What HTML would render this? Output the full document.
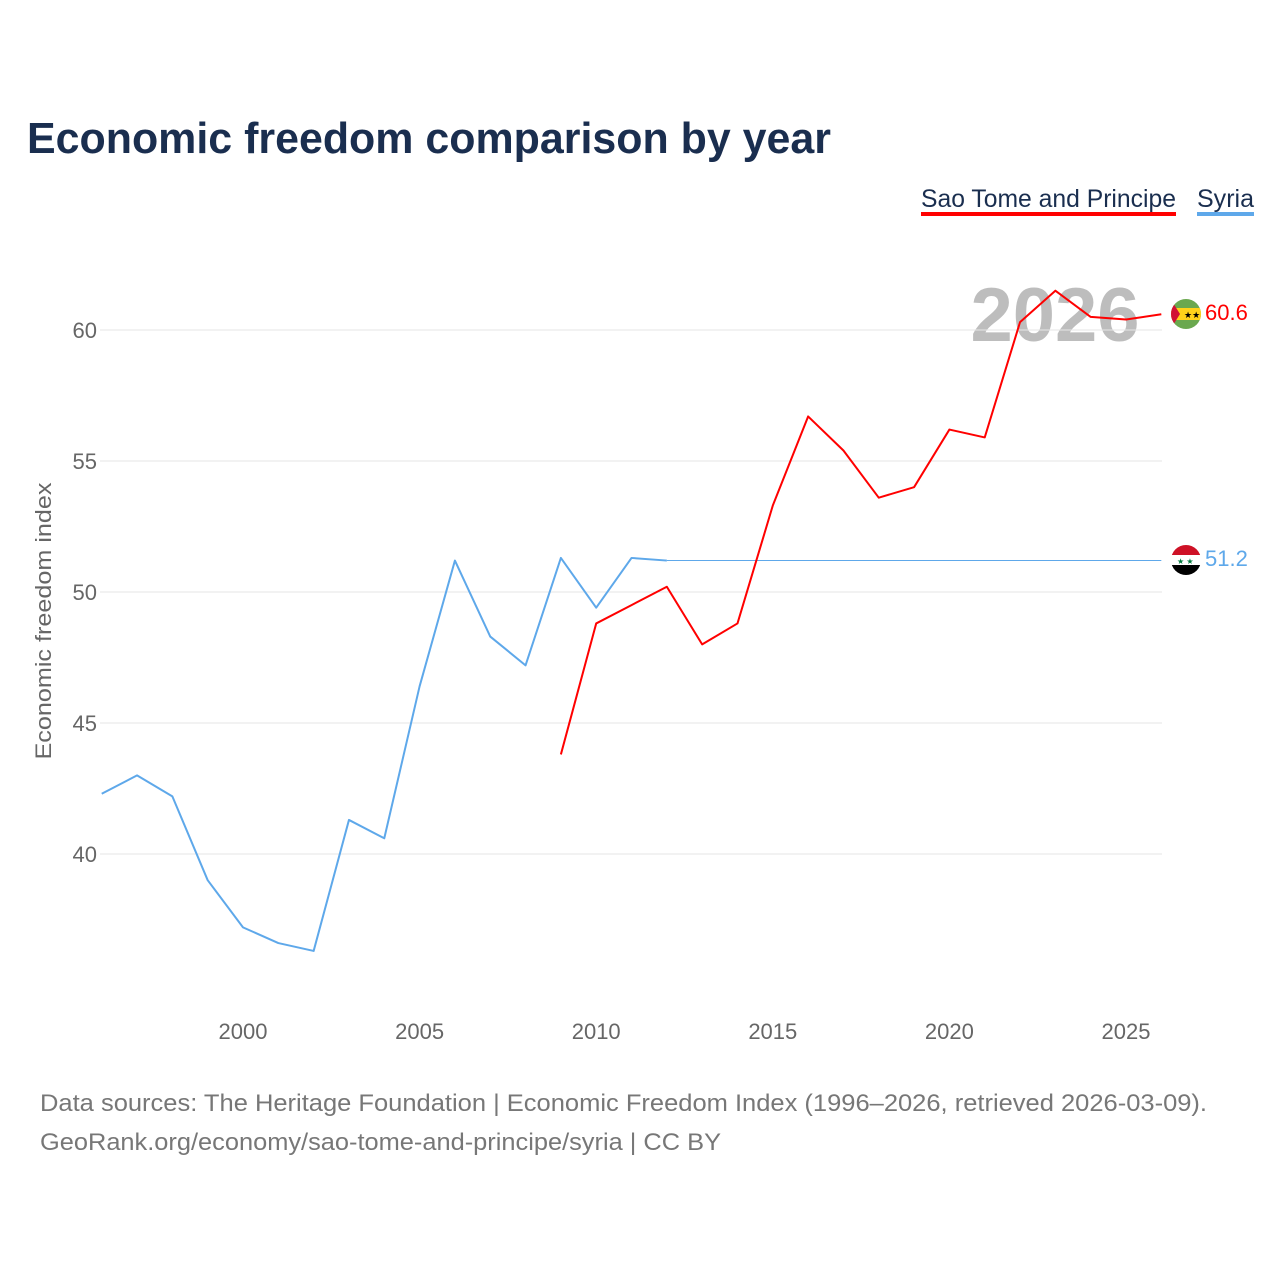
<!DOCTYPE html>
<html><head><meta charset="utf-8">
<style>
body{margin:0;background:#fff;font-family:"Liberation Sans",sans-serif;}
#wrap{position:relative;width:1280px;height:1280px;overflow:hidden;}
</style></head>
<body>
<div id="wrap">
<svg id="svg" width="1280" height="1280" xmlns="http://www.w3.org/2000/svg">
<text x="27" y="153" font-size="44" font-weight="bold" fill="#1a2e4f" textLength="804" lengthAdjust="spacingAndGlyphs">Economic freedom comparison by year</text>
<g>
<text x="921" y="207" font-size="25" fill="#1a2e4f" textLength="255" lengthAdjust="spacingAndGlyphs">Sao Tome and Principe</text>
<rect x="921" y="212" width="255" height="4" fill="#ff0000"/>
</g>
<g>
<text x="1197" y="207" font-size="25" fill="#1a2e4f" textLength="57" lengthAdjust="spacingAndGlyphs">Syria</text>
<rect x="1197" y="212" width="57" height="4" fill="#5ea8ea"/>
</g>
<text x="1055" y="341" font-size="76" font-weight="bold" fill="#bdbdbd" text-anchor="middle">2026</text>
<g id="grid"></g>
<g id="axes"></g>
<g id="series"></g>
<text transform="translate(51,621) rotate(-90)" font-size="22" fill="#666" text-anchor="middle" textLength="277" lengthAdjust="spacingAndGlyphs">Economic freedom index</text>
<g>
<clipPath id="c1"><circle cx="1186" cy="314" r="15"/></clipPath>
<g clip-path="url(#c1)">
<rect x="1170" y="298" width="32" height="32" fill="#6aa84f"/>
<rect x="1170" y="308" width="32" height="12" fill="#ffd21a"/>
<polygon points="1170,298 1180,314 1170,330" fill="#d21034"/>
<text x="1184" y="318" font-size="9" fill="#000">★★</text>
</g></g>
<g>
<clipPath id="c2"><circle cx="1186" cy="560" r="15"/></clipPath>
<g clip-path="url(#c2)">
<rect x="1170" y="544" width="32" height="11" fill="#ce1126"/>
<rect x="1170" y="555" width="32" height="10" fill="#fff"/>
<rect x="1170" y="565" width="32" height="11" fill="#000"/>
<text x="1177" y="564" font-size="8" fill="#007a3d">★ ★</text>
</g></g>
<text x="1205" y="320" font-size="22" fill="#ff0000">60.6</text>
<text x="1205" y="566" font-size="22" fill="#5ea8ea">51.2</text>
<text x="40" y="1111" font-size="24" fill="#777" textLength="1167" lengthAdjust="spacingAndGlyphs">Data sources: The Heritage Foundation | Economic Freedom Index (1996–2026, retrieved 2026-03-09).</text>
<text x="40" y="1150" font-size="24" fill="#777" textLength="681" lengthAdjust="spacingAndGlyphs">GeoRank.org/economy/sao-tome-and-principe/syria | CC BY</text>
</svg>
</div>
<script>
const yTicks=[40,45,50,55,60];
const xTicks=[2000,2005,2010,2015,2020,2025];
const syriaYears=[1996,1997,1998,1999,2000,2001,2002,2003,2004,2005,2006,2007,2008,2009,2010,2011,2012];
const syriaValues=[42.3,43.0,42.2,39.0,37.2,36.6,36.3,41.3,40.6,46.4,51.2,48.3,47.2,51.3,49.4,51.3,51.2];
const syriaHoldYears=[2012,2026];
const syriaHoldValues=[51.2,51.2];
const stpYears=[2009,2010,2011,2012,2013,2014,2015,2016,2017,2018,2019,2020,2021,2022,2023,2024,2025,2026];
const stpValues=[43.8,48.8,49.5,50.2,48.0,48.8,53.3,56.7,55.4,53.6,54.0,56.2,55.9,60.3,61.5,60.5,60.4,60.6];
const NS="http://www.w3.org/2000/svg";
const xs=y=>243+(y-2000)*35.32;
const ys=v=>854-(v-40)*26.2;
const grid=document.getElementById('grid'),axes=document.getElementById('axes'),ser=document.getElementById('series');
yTicks.forEach(t=>{
 const l=document.createElementNS(NS,'line');
 l.setAttribute('x1',100);l.setAttribute('x2',1162);l.setAttribute('y1',ys(t));l.setAttribute('y2',ys(t));
 l.setAttribute('stroke','#e6e6e6');l.setAttribute('stroke-width',1);
 
 
 grid.appendChild(l);
 const tx=document.createElementNS(NS,'text');
 tx.setAttribute('x',97);tx.setAttribute('y',ys(t)+8);tx.setAttribute('text-anchor','end');
 tx.setAttribute('font-size',22);tx.setAttribute('fill','#666');tx.textContent=t;
 
 
 axes.appendChild(tx);
});
xTicks.forEach(t=>{
 const tx=document.createElementNS(NS,'text');
 tx.setAttribute('x',xs(t));tx.setAttribute('y',1039);tx.setAttribute('text-anchor','middle');
 tx.setAttribute('font-size',22);tx.setAttribute('fill','#666');tx.textContent=t;
 
 
 axes.appendChild(tx);
});
function line(yrs,vals,color,w,name){
 const p=document.createElementNS(NS,'polyline');
 p.setAttribute('points',yrs.map((y,i)=>xs(y)+','+ys(vals[i])).join(' '));
 p.setAttribute('fill','none');p.setAttribute('stroke',color);p.setAttribute('stroke-width',w);
 p.setAttribute('stroke-linejoin','round');
 
 
 ser.appendChild(p);
}
line(syriaHoldYears,syriaHoldValues,'#5ea8ea',1,'syria-carry-forward-line');
line(syriaYears,syriaValues,'#5ea8ea',2,'syria-line');
line(stpYears,stpValues,'#ff0000',2,'sao-tome-line');
</script>
</body></html>
